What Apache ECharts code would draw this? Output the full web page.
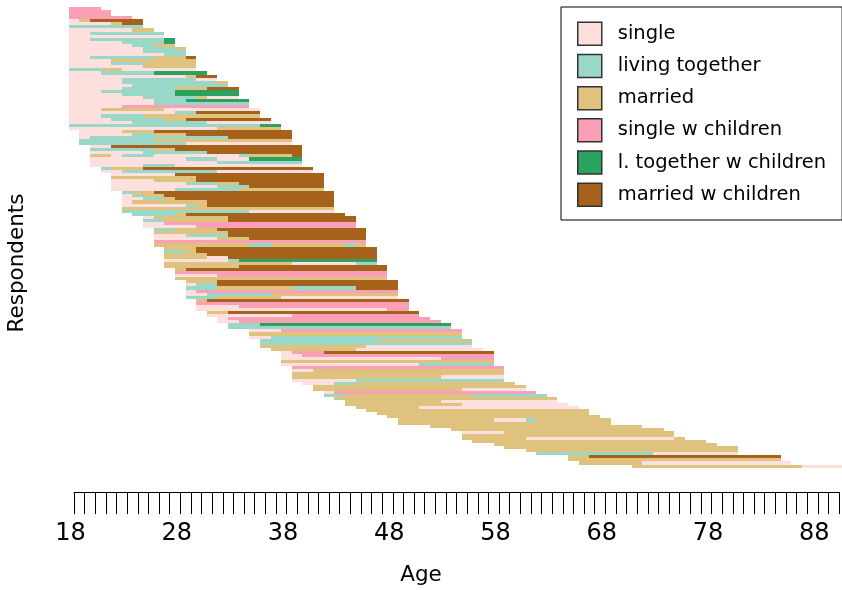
<!DOCTYPE html>
<html>
<head>
<meta charset="utf-8">
<title>Sequence index plot</title>
<script src="https://cdn.jsdelivr.net/npm/echarts@6/dist/echarts.min.js"></script>
<style>
  html, body { margin: 0; padding: 0; background: #ffffff; }
  #chart { width: 842px; height: 590px; }
</style>
</head>
<body>
<div id="chart"></div>
<script>
// State alphabet: code letter, label and colour
const stateCodes  = ['S', 'L', 'M', 'C', 'T', 'W'];
const stateNames  = ['single', 'living together', 'married', 'single w children',
                     'l. together w children', 'married w children'];
const stateColors = ['#FDE0DD', '#99D8C9', '#DFC27D', '#FA9FB5', '#2CA25F', '#A6611A'];

// Age axis
const ageMin = 18;
const ageMax = 90;
const ageTicks = [18, 28, 38, 48, 58, 68, 78, 88];

// One entry per respondent: age at first observation ...
const startAges = [
  18, 18, 18, 18, 18, 18, 18, 18, 18, 18,
  18, 18, 18, 18, 18, 18, 18, 18, 18, 18,
  18, 18, 18, 18, 18, 18, 18, 18, 18, 18,
  18, 18, 18, 18, 18, 18, 18, 18, 18, 18,
  19, 19, 19, 19, 19, 20, 20, 20, 20, 20,
  20, 20, 21, 21, 22, 22, 22, 22, 22, 22,
  23, 23, 23, 23, 23, 23, 23, 24, 25, 25,
  25, 25, 26, 26, 26, 26, 26, 26, 27, 27,
  27, 27, 27, 27, 27, 28, 28, 28, 28, 29,
  29, 29, 29, 29, 29, 30, 30, 30, 30, 31,
  31, 32, 32, 33, 33, 35, 35, 35, 36, 36,
  36, 37, 38, 38, 38, 38, 38, 39, 39, 39,
  39, 39, 40, 41, 41, 42, 42, 43, 44, 44,
  45, 46, 47, 48, 49, 49, 52, 54, 55, 55,
  55, 56, 58, 59, 61, 62, 65, 65, 66, 71
];

// ... and the yearly states as runs (state letter + number of years)
const spells = [
  'C3', 'C4', 'C4', 'C6', 'S1M1W5', 'S4M1W2', 'L7', 'S6M2', 'S2L7', 'S9',
  'S2L7T1', 'S5L4T1', 'S6L2M2', 'S7L3M1', 'S7L4', 'S9L2', 'S2L6M3W1', 'S4M8', 'S4L3M5', 'S7M5',
  'L3M2S7', 'S3L5T5', 'S11M1W2', 'S5L7S2', 'S5L9M1', 'S6L9', 'S5L5M3W3', 'S3L7T6', 'S5L5T6', 'S7L5M1S3',
  'S8L3T6', 'S8L9', 'S5C12', 'S3M6S9', 'S10L2W6', 'S3L4M11', 'S4L5M2W8', 'S6L7S6', 'L18T2', 'S14M6',
  'S4M3W13', 'S5L2M3W10', 'S1L13W6', 'L7M13', 'L10S10', 'S2W18', 'L6M2W12', 'S5L6W9', 'M2S1L3S8L1M4W1', 'S9L3S3T5',
  'S12L8', 'S5L3S12', 'L1M3W16', 'S2L9S9', 'S6W14', 'M8W12', 'S4M4W12', 'S7L3M2W8', 'S10L3W7', 'S6L6M8',
  'L1M2W17', 'S1L1M2W16', 'S2L2M1W15', 'S1M7W12', 'S6L1M1W12', 'M20', 'L12S8', 'L4M1W15', 'S1M7W12', 'L2M6W12',
  'S2C18', 'S5C15', 'L2M4W14', 'M7W13', 'S3L4W13', 'S6M3W11', 'C20', 'M9L2M7L1M1', 'M3W17', 'L2M1W17',
  'M4W16', 'M4S2W14', 'S6L1T13', 'M12S6L2', 'M7W14', 'M1W19', 'C20', 'S4C16', 'M20', 'M3W17',
  'S1L2W17', 'L3M7L6W4', 'S1C19', 'S2L6M12', 'L3M6S11', 'M1W19', 'C20', 'S4C16', 'S18C2', 'M2W18',
  'S8C12', 'S1C19', 'S2C19', 'L3T18', 'L21', 'S3C17', 'M20', 'S2L18', 'L11M9', 'L20',
  'M10S10', 'M8S12', 'S1C3W16', 'S2C18', 'S15C5', 'M20', 'S13L7', 'C20', 'S2M18', 'M20',
  'M14S6', 'S6L14', 'S3L2M15', 'M20', 'M14S6', 'S1C19', 'L2M12L7', 'M21', 'M9S11', 'M11S10',
  'M6S15', 'M21', 'M20', 'M20', 'M9S3L1M7', 'M20', 'M20', 'M20', 'S4M16', 'M20',
  'M6S14M1', 'M22', 'M21', 'M22', 'M20', 'L11S8', 'M2W18', 'M20', 'M6S14', 'M16S4'
];

const nRows = spells.length;

// Expand the runs into [fromAge, toAge, row] segments, grouped by state
const segments = stateCodes.map(() => []);
spells.forEach((s, row) => {
  let age = startAges[row];
  const re = /([A-Z])(\d+)/g;
  let m;
  while ((m = re.exec(s)) !== null) {
    const k = stateCodes.indexOf(m[1]);
    const n = Number(m[2]);
    segments[k].push([age, age + n, row]);
    age += n;
  }
});

// Each year is a cell centred on its age tick; a respondent is one row.
// Edges are snapped to whole pixels so neighbouring cells meet without seams.
function renderSpell(params, api) {
  const a0 = api.value(0), a1 = api.value(1), row = api.value(2);
  const p0 = api.coord([a0 - 0.5, row]);
  const p1 = api.coord([a1 - 0.5, row + 1]);
  const x0 = Math.round(p0[0]), x1 = Math.round(p1[0]);
  const y0 = Math.round(p0[1]), y1 = Math.round(p1[1]);
  return {
    type: 'rect',
    shape: { x: x0, y: y0, width: x1 - x0, height: y1 - y0 },
    style: { fill: api.visual('color') }
  };
}

const chart = echarts.init(document.getElementById('chart'), null, { renderer: 'canvas' });

chart.setOption({
  animation: false,
  backgroundColor: '#ffffff',
  grid: { left: 74, right: 0, top: 7, bottom: 122.4 },
  xAxis: {
    type: 'value',
    min: ageMin,
    max: ageMax,
    interval: 1,
    offset: 24.5,
    axisLine: { show: true, onZero: false, lineStyle: { color: '#000', width: 1 } },
    axisTick: { show: true, length: 22, lineStyle: { color: '#000', width: 1 } },
    axisLabel: {
      formatter: v => (ageTicks.indexOf(v) >= 0 ? String(v) : ''),
      fontFamily: 'DejaVu Sans',
      fontSize: 24,
      color: '#000',
      margin: 30,
      padding: [0, 7, 0, 0]
    },
    splitLine: { show: false }
  },
  yAxis: {
    type: 'value',
    min: 0,
    max: nRows,
    inverse: true,
    show: false
  },
  legend: {
    orient: 'vertical',
    left: 561,
    top: 7,
    padding: [14.5, 16, 13, 16],
    itemWidth: 24,
    itemHeight: 23,
    itemGap: 7.7,
    icon: 'rect',
    selectedMode: false,
    borderColor: '#000',
    borderWidth: 1,
    backgroundColor: '#ffffff',
    itemStyle: { borderColor: '#333', borderWidth: 1.5 },
    textStyle: {
      fontFamily: 'DejaVu Sans',
      fontSize: 19.5,
      color: '#000',
      padding: [0, 0, 0, 11]
    },
    data: stateNames
  },
  graphic: [
    {
      type: 'text',
      x: 17,
      y: 263,
      rotation: Math.PI / 2,
      style: {
        text: 'Respondents',
        font: '21.5px "DejaVu Sans"',
        fill: '#000',
        align: 'center',
        verticalAlign: 'middle'
      }
    },
    {
      type: 'text',
      x: 421,
      y: 575,
      style: {
        text: 'Age',
        font: '21.5px "DejaVu Sans"',
        fill: '#000',
        align: 'center',
        verticalAlign: 'middle'
      }
    }
  ],
  series: stateNames.map((name, k) => ({
    type: 'custom',
    name: name,
    color: stateColors[k],
    itemStyle: { color: stateColors[k] },
    clip: false,
    encode: { x: [0, 1], y: 2 },
    renderItem: renderSpell,
    data: segments[k]
  }))
});
</script>
</body>
</html>
